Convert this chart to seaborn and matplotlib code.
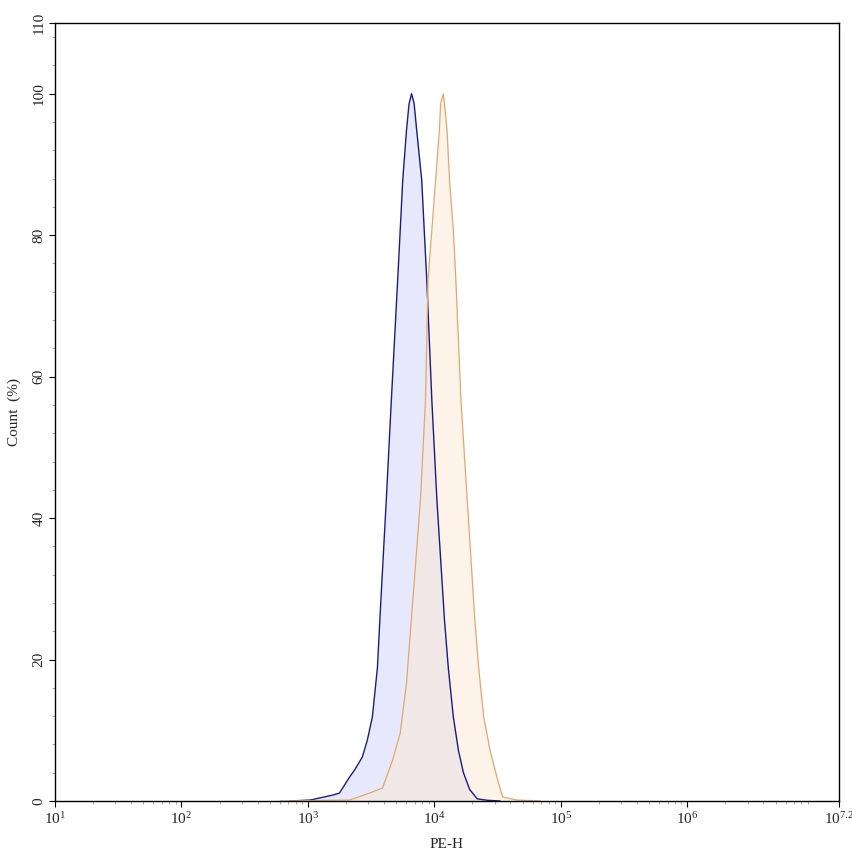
import numpy as np
import pandas as pd
import matplotlib
matplotlib.use("Agg")
import matplotlib.pyplot as plt
import seaborn as sns
from matplotlib.ticker import FixedLocator, LogLocator, NullFormatter

# histogram outlines (log10 of PE-H, count %)
blue_log = [2.86, 3.02, 3.20, 3.25, 3.33, 3.37, 3.43, 3.47, 3.51, 3.55, 3.57, 3.62, 3.66, 3.71,
            3.73, 3.75, 3.78, 3.80, 3.82, 3.84, 3.86, 3.90, 3.92, 3.94, 3.98, 4.02, 4.08, 4.11,
            4.15, 4.19, 4.23, 4.28, 4.34, 4.42, 4.52]
blue_count = [0.0, 0.14, 0.85, 1.13, 3.4, 4.4, 6.2, 8.6, 11.9, 18.9, 26.0, 42.6, 56.7, 73.7,
              80.7, 87.8, 94.9, 98.6, 100.0, 98.6, 94.9, 87.8, 80.7, 73.7, 56.7, 42.6, 25.6, 18.9,
              11.9, 7.2, 4.0, 1.6, 0.3, 0.1, 0.0]

orange_log = [2.78, 3.33, 3.49, 3.59, 3.67, 3.73, 3.78, 3.81, 3.83, 3.89, 3.93, 3.95, 3.98,
              4.01, 4.04, 4.05, 4.07, 4.08, 4.10, 4.12, 4.15, 4.17, 4.21, 4.26, 4.32, 4.35,
              4.39, 4.44, 4.50, 4.54, 4.65, 4.84]
orange_count = [0.0, 0.14, 1.13, 1.84, 5.8, 9.6, 16.7, 23.8, 28.4, 42.6, 56.7, 73.7, 80.7,
                87.8, 94.9, 98.6, 100.0, 98.6, 94.9, 87.8, 80.7, 73.7, 56.7, 42.6, 25.6, 18.9,
                11.9, 7.2, 3.0, 0.57, 0.14, 0.0]

x_ticks = [1, 2, 3, 4, 5, 6, 7.2]
x_labels = ["$10^{1}$", "$10^{2}$", "$10^{3}$", "$10^{4}$", "$10^{5}$", "$10^{6}$", "$10^{7.2}$"]
y_ticks = [0, 20, 40, 60, 80, 100, 110]

sns.set_style("white")
plt.rcParams["font.family"] = ["Liberation Serif", "DejaVu Serif"]
plt.rcParams["mathtext.fontset"] = "custom"
plt.rcParams["mathtext.rm"] = "Liberation Serif"
plt.rcParams["mathtext.it"] = "Liberation Serif"

blue = pd.DataFrame({"PE-H": np.power(10.0, blue_log), "Count": blue_count})
orange = pd.DataFrame({"PE-H": np.power(10.0, orange_log), "Count": orange_count})

fig = plt.figure(figsize=(8.53, 8.56), dpi=100)
ax = fig.add_axes([55 / 853, 55 / 856, 784 / 853, 778 / 856])

ax.fill_between(blue["PE-H"], blue["Count"], color="#d2d2fa", alpha=0.5, lw=0)
ax.fill_between(orange["PE-H"], orange["Count"], color="#fce6cc", alpha=0.45, lw=0)
sns.lineplot(data=blue, x="PE-H", y="Count", ax=ax, color="#1c1c80", lw=1.0,
             estimator=None, sort=False)
sns.lineplot(data=orange, x="PE-H", y="Count", ax=ax, color="#e0a86e", lw=0.9,
             estimator=None, sort=False)

ax.set_xscale("log")
ax.set_xlim(10, 10 ** 7.2)
ax.set_ylim(0, 110)
ax.xaxis.set_major_locator(FixedLocator([10 ** t for t in x_ticks]))
ax.set_xticklabels(x_labels)
ax.xaxis.set_minor_locator(LogLocator(base=10, subs=np.arange(2, 10)))
ax.xaxis.set_minor_formatter(NullFormatter())
ax.set_yticks(y_ticks)
ax.set_yticks(np.arange(0, 110, 4), minor=True)
for lab in ax.get_yticklabels():
    lab.set_rotation(90)
    lab.set_va("center")

ax.tick_params(axis="both", which="major", direction="out", length=4, width=0.8,
               labelsize=11, color="black", bottom=True, left=True)
ax.tick_params(axis="both", which="minor", direction="out", length=2, width=0.6,
               color="#999999", bottom=True, left=True)
ax.tick_params(axis="y", pad=3)
for s in ax.spines.values():
    s.set_color("black")
    s.set_linewidth(1.0)

ax.set_xlabel("PE-H", fontsize=11, labelpad=8)
ax.set_ylabel("Count  (%)", fontsize=11, labelpad=8)
ax.grid(False)

fig.savefig("out.png", dpi=100)
